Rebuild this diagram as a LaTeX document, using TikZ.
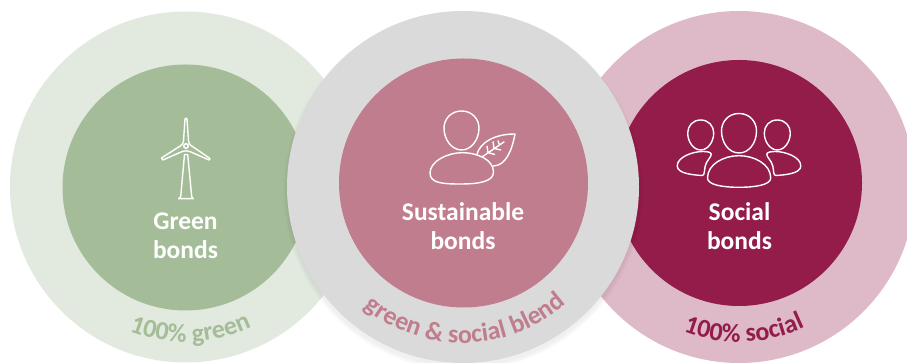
\documentclass[tikz,border=0pt]{standalone}
\usepackage{fontspec}
\setmainfont{Carlito}
\usetikzlibrary{decorations.text}
\definecolor{greenpale}{HTML}{E2EADF}
\definecolor{greenmid}{HTML}{A4BD98}
\definecolor{greypale}{HTML}{DADADA}
\definecolor{rosemid}{HTML}{C07D8D}
\definecolor{rosepale}{HTML}{DEB9C8}
\definecolor{crimson}{HTML}{931C4A}
\tikzset{
  bondlabel/.style={text=white,align=center,font=\fontsize{25.5}{29}\selectfont\bfseries},
  iconline/.style={draw=white,line width=1.4pt,line join=round},
  curvelabel/.style={decorate,decoration={text along path,text align=center,text={#1}}}
}
\begin{document}
\begin{tikzpicture}[x=1pt,y=1pt]
\useasboundingbox (0,0) rectangle (907,363);
\clip (0,0) rectangle (907,363);
\coordinate (greenc) at (185.5,176);
\coordinate (blendc) at (463,176);
\coordinate (socialc) at (739,176);
% outer discs
\fill[greenpale] (greenc) circle (175.5pt);
\fill[rosepale] (socialc) circle (176pt);
\fill[greenmid] (185.5,175.5) circle (123pt);
\fill[crimson] (739,180) circle (123pt);
% soft shadow under the grey disc
\foreach \g in {1,...,5}
  \fill[black,opacity=0.01] ([yshift=-4pt]blendc) circle (175pt+\g pt);
\fill[greypale] (blendc) circle (176pt);
\fill[rosemid] (463.5,180) circle (124.5pt);
% labels
\node[bondlabel] (greenlab) at (185.5,127.5) {Green\\bonds};
\node[bondlabel] (blendlab) at (463,136.5) {Sustainable\\bonds};
\node[bondlabel] (sociallab) at (739.5,136.5) {Social\\bonds};
% curved labels
\path[curvelabel={|\fontsize{26}{26}\selectfont\bfseries\color{greenmid}|100{\%} green}]
  ([shift={(212:155)}]greenc) arc[start angle=212,end angle=332,radius=155pt];
\path[curvelabel={|\fontsize{26}{26}\selectfont\bfseries\color{rosemid}|green {\&} social blend}]
  ([shift={(211:156)}]blendc) arc[start angle=211,end angle=331,radius=156pt];
\path[curvelabel={|\fontsize{26}{26}\selectfont\bfseries\color{crimson}|100{\%} social}]
  ([shift={(212:155)}]socialc) arc[start angle=212,end angle=332,radius=155pt];
% icons, in picture coordinates
\begin{scope}[yshift=363pt,yscale=-1]
% turbine
\draw[iconline] (186,146) circle (2.3pt);
\draw[iconline] (185,119) .. controls (185.5,118) and (186.5,118) .. (187,119)
  -- (188.5,141) .. controls (188.7,143) and (189.5,144.5) .. (191,145.5)
  -- (210,158.5) -- (209,160) -- (191,152) .. controls (187.5,150.5) and (184.5,150.5) .. (181,152)
  -- (163,160) -- (161.5,158) -- (181,145.5) .. controls (182.5,144.5) and (183.3,143) .. (183.5,141) -- cycle;
\draw[iconline] (184.5,154.5) -- (180.7,196.7) -- (178.7,198.7) -- (193.3,198.7)
  -- (191.7,196.7) -- (187.7,154.5) -- cycle;
% person with leaf
\draw[iconline] (461.7,111) .. controls (472,111) and (479,119) .. (479,128)
  .. controls (479,140) and (471,150) .. (461.7,150)
  .. controls (452,150) and (444,140) .. (444,128)
  .. controls (444,119) and (451,111) .. (461.7,111) -- cycle;
\draw[iconline] (430,173) .. controls (430,161) and (448,152.7) .. (462,152.7)
  .. controls (478,152.7) and (493.5,160) .. (493.5,172)
  .. controls (493.5,182) and (478,184) .. (460,184)
  .. controls (442,184) and (430,183) .. (430,173) -- cycle;
\draw[iconline] (476.7,155) .. controls (480,142) and (495,134) .. (515,134)
  .. controls (512,150) and (506,166) .. (493,166);
\draw[iconline] (482,157) -- (504.3,141.7)
  (488,152.7) -- (487,146) (494,148.5) -- (493,141.5) (499.5,145) -- (498,140.5)
  (488,152.7) -- (495,154.5) (494,148.5) -- (501,150);
% three people
\draw[iconline] (739,113.5) .. controls (750,113.5) and (756.5,122) .. (756.5,131)
  .. controls (756.5,143) and (749,153) .. (739,153)
  .. controls (729,153) and (721.5,143) .. (721.5,131)
  .. controls (721.5,122) and (728,113.5) .. (739,113.5) -- cycle;
\draw[iconline] (707.5,178) .. controls (707.5,164) and (724,155.7) .. (739,155.7)
  .. controls (754,155.7) and (770.7,164) .. (770.7,178)
  .. controls (770.7,185) and (755,187.3) .. (739,187.3)
  .. controls (723,187.3) and (707.5,185) .. (707.5,178) -- cycle;
\foreach \mx/\sg in {700.7/1,777.3/-1} {
  \begin{scope}[shift={(\mx pt,0)},xscale=\sg]
  \draw[iconline] (0,120) .. controls (8,120) and (13,126) .. (13,133)
    .. controls (13,142) and (7,150) .. (0,150)
    .. controls (-7,150) and (-13,142) .. (-13,133)
    .. controls (-13,126) and (-8,120) .. (0,120) -- cycle;
  \draw[iconline] (-23.5,166) .. controls (-23.5,157) and (-8,151.5) .. (2,151.5)
    .. controls (6,151.5) and (10,152) .. (10.5,154)
    .. controls (11,157) and (6,160) .. (4.5,166)
    .. controls (3.5,171) and (4,175.5) .. (1.5,175.5)
    .. controls (-6,175) and (-23.5,174) .. (-23.5,166) -- cycle;
  \end{scope}
}
\end{scope}
\end{tikzpicture}
\end{document}
